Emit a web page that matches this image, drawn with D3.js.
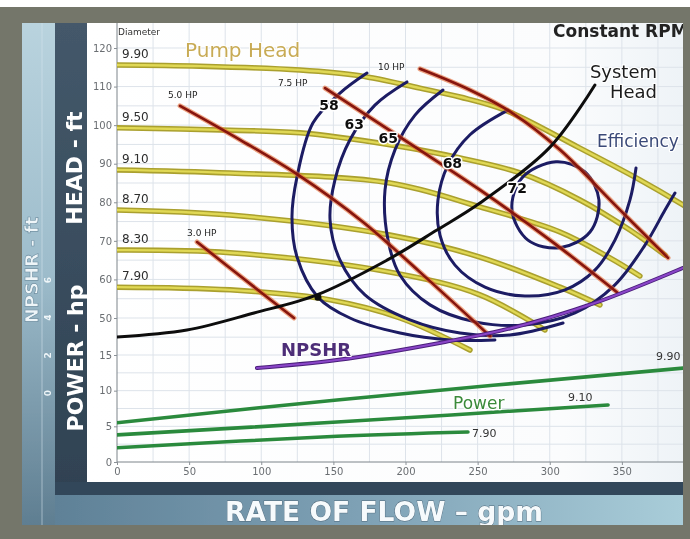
<!DOCTYPE html>
<html><head><meta charset="utf-8">
<script src="https://cdn.jsdelivr.net/npm/d3@7"></script>
<style>
html,body{margin:0;padding:0;background:#fff;}
svg{display:block;font-family:"DejaVu Sans",Verdana,sans-serif;}
</style></head><body>
<svg id="chart" width="690" height="539"></svg>
<script>
// ---- axis ticks ----
const flowTicks  = [0, 50, 100, 150, 200, 250, 300, 350];
const headTicks  = [50, 60, 70, 80, 90, 100, 110, 120];
const powerTicks = [0, 5, 10, 15];
const npshrTicks = [0, 2, 4, 6];

// ---- pump head curves per impeller diameter: [gpm, ft] ----
const diameters = ["9.90", "9.50", "9.10", "8.70", "8.30", "7.90"];
const head990 = [[0,115.6],[57.5,115.3],[126.9,114.3],[168.4,112.8],[210.0,109.6],[237.8,107.3],[269.0,103.9],[319.6,94.3],[362.5,85.8],[392.4,79.3],[400,77.5]];
const head950 = [[0,99.3],[78.3,98.7],[126.9,98.0],[189.2,94.9],[237.8,91.5],[279.4,87.6],[321.0,80.6],[355.6,72.8],[379.9,66.3]];
const head910 = [[0,88.4],[78.3,87.6],[189.2,85.0],[251.6,78.8],[307.1,72.3],[341.7,65.6],[362.5,60.9]];
const head870 = [[0,78.0],[78.3,76.7],[189.2,71.5],[251.6,65.8],[307.1,58.0],[334.8,53.4]];
const head830 = [[0,67.6],[78.3,66.9],[189.2,61.9],[251.6,56.0],[296.7,46.9]];
const head790 = [[0,58.0],[78.3,57.3],[147.7,54.7],[196.2,50.0],[244.7,41.7]];

// ---- constant horsepower lines: [gpm, ft] ----
const hpNames = ["3.0 HP", "5.0 HP", "7.5 HP", "10 HP"];
const hp30  = [[55.5,69.7],[88.7,59.9],[122.7,50.0]];
const hp50  = [[43.7,105.0],[85.3,96.2],[124.8,87.3],[170.5,74.9],[210.0,61.9],[258.6,45.3]];
const hp75  = [[144.2,109.6],[196.2,96.9],[251.6,83.2],[300.2,70.2],[346.6,56.7]];
const hp100 = [[210.0,114.6],[244.7,109.1],[273.8,103.2],[307.1,93.6],[346.6,78.8],[382.0,65.6]];

// ---- efficiency contours (%): [gpm, ft] ----
const effNames = ["58", "63", "65", "68", "72"];
const eff58 = [[173.3,113.5],[154.6,108.3],[135.9,100.6],[124.8,86.6],[121.3,76.2],[124.8,65.8],[139.3,55.4],[161.5,50.0],[196.2,46.1],[230.8,44.3],[262.0,44.3]];
const eff63 = [[201.0,111.2],[178.8,105.2],[161.5,96.2],[151.1,85.8],[147.7,75.4],[154.6,65.0],[171.9,56.0],[203.1,49.5],[237.8,46.1],[272.4,45.6],[309.2,48.7]];
const eff65 = [[226.0,109.1],[206.6,102.6],[192.7,93.6],[185.8,83.2],[187.9,70.2],[196.2,61.1],[217.0,53.4],[248.2,49.0],[282.8,48.2],[317.5,51.3],[345.2,58.6],[366.0,68.9],[379.9,78.0],[386.8,82.4]];
const eff68 = [[271.0,103.9],[244.7,97.5],[229.5,89.7],[222.5,80.6],[223.9,71.5],[234.3,63.7],[255.1,58.0],[282.8,55.7],[310.6,57.3],[331.3,62.4],[345.2,70.2],[355.6,80.6],[359.8,88.9]];
const eff72 = [[304.3,90.5],[324.4,87.9],[334.1,80.6],[327.9,72.3],[307.1,68.2],[284.9,70.2],[273.8,78.0],[280.7,86.3]];

// ---- system head curve: [gpm, ft] ----
const systemHead = [[0,45.1],[48.5,46.9],[95.0,51.3],[138.6,56.0],[187.2,65.0],[221.8,72.8],[251.6,79.8],[300.2,94.3],[331.3,110.4]];
const operatingPoint = [139.3, 55.4];

// ---- NPSHR curve: [gpm, ft] ----
const npshr = [[97.0,1.33],[152.5,1.75],[227.4,2.71],[273.8,3.45],[331.3,4.78],[388.9,6.53],[400,6.9]];

// ---- brake power per diameter: [gpm, hp] ----
const powerNames = ["9.90", "9.10", "7.90"];
const power990 = [[0,5.5],[152.5,8.7],[400,13.3]];
const power910 = [[0,3.8],[152.5,5.6],[340.4,8.0]];
const power790 = [[0,2.0],[152.5,3.6],[243.3,4.2]];

// ------------------------------------------------------------
const svg = d3.select("#chart");
const W = 690, H = 539;
const plot = {left: 117, right: 683, top: 23, bottom: 462};

const x     = d3.scaleLinear().domain([0, 400]).range([117, 694]);
const yHead = d3.scaleLinear().domain([50, 120]).range([318, 48]);
const yLow  = d3.scaleLinear().domain([0, 15]).range([462, 355]);
const yNpsh = d3.scaleLinear().domain([0, 6]).range([393, 280]);

const defs = svg.append("defs");
function vGrad(id, stops) {
  const g = defs.append("linearGradient").attr("id", id).attr("x1",0).attr("y1",0).attr("x2",0).attr("y2",1);
  stops.forEach(s => g.append("stop").attr("offset", s[0]).attr("stop-color", s[1]));
}
function hGrad(id, stops) {
  const g = defs.append("linearGradient").attr("id", id).attr("x1",0).attr("y1",0).attr("x2",1).attr("y2",0);
  stops.forEach(s => g.append("stop").attr("offset", s[0]).attr("stop-color", s[1]));
}
vGrad("lightStrip", [[0,"#b9d3de"],[0.5,"#9dbccb"],[1,"#5f7e91"]]);
vGrad("darkStrip", [[0,"#44586a"],[1,"#2f4252"]]);
hGrad("flowStrip", [[0,"#5f8197"],[0.5,"#7fa2b6"],[1,"#a9cdd9"]]);
hGrad("plotBg", [[0,"#ffffff"],[0.8,"#fbfcfd"],[1,"#eef3f7"]]);
defs.append("clipPath").attr("id", "plotClip").append("rect")
  .attr("x", plot.left).attr("y", plot.top).attr("width", plot.right - plot.left).attr("height", plot.bottom - plot.top);
defs.append("clipPath").attr("id", "panelClip").append("rect")
  .attr("x", 22).attr("y", 23).attr("width", 661).attr("height", 502);
defs.append("filter").attr("id", "soft").append("feGaussianBlur").attr("stdDeviation", 0.55);

// ---- frame ----
svg.append("rect").attr("width", W).attr("height", H).attr("fill", "#ffffff");
svg.append("rect").attr("x", 0).attr("y", 7).attr("width", W).attr("height", H - 7).attr("fill", "#74766a");

const root = svg.append("g").attr("filter", "url(#soft)");
const panel = root.append("g").attr("clip-path", "url(#panelClip)");
panel.append("rect").attr("x", 22).attr("y", 23).attr("width", 661).attr("height", 502).attr("fill", "#3a4d5d");
panel.append("rect").attr("x", 22).attr("y", 23).attr("width", 33).attr("height", 502).attr("fill", "url(#lightStrip)");
panel.append("line").attr("x1", 42).attr("x2", 42).attr("y1", 23).attr("y2", 525).attr("stroke", "#d9e8ee").attr("stroke-opacity", 0.55).attr("stroke-width", 1);
panel.append("rect").attr("x", 55).attr("y", 23).attr("width", 32).attr("height", 472).attr("fill", "url(#darkStrip)");
panel.append("rect").attr("x", 55).attr("y", 482).attr("width", 628).attr("height", 13).attr("fill", "#33475a");
panel.append("rect").attr("x", 55).attr("y", 495).attr("width", 628).attr("height", 30).attr("fill", "url(#flowStrip)");
panel.append("rect").attr("x", 87).attr("y", 23).attr("width", 596).attr("height", 459).attr("fill", "url(#plotBg)");

// ---- side titles ----
panel.append("text").attr("transform", "translate(82,168) rotate(-90)")
  .attr("text-anchor", "middle").attr("font-size", 22).attr("font-weight", "bold").attr("fill", "#ffffff").text("HEAD - ft");
panel.append("text").attr("transform", "translate(83,358) rotate(-90)")
  .attr("text-anchor", "middle").attr("font-size", 22).attr("font-weight", "bold").attr("fill", "#ffffff").text("POWER - hp");
panel.append("text").attr("transform", "translate(38,270) rotate(-90)")
  .attr("text-anchor", "middle").attr("font-size", 18).attr("font-weight", "bold").attr("fill", "#eef5f8")
  .attr("stroke", "#6d8da0").attr("stroke-width", 0.6).text("NPSHR - ft");
panel.selectAll("text.npsh").data(npshrTicks).join("text").attr("class", "npsh")
  .attr("transform", d => `translate(51,${yNpsh(d)}) rotate(-90)`)
  .attr("text-anchor", "middle").attr("font-size", 9).attr("font-weight", "bold").attr("fill", "#eef5f8").text(d => d);
panel.append("text").attr("x", 225).attr("y", 521).attr("font-size", 27).attr("font-weight", "bold")
  .attr("fill", "#f6fafc").attr("stroke", "#50687a").attr("stroke-width", 0.8).attr("paint-order", "stroke")
  .attr("textLength", 318).attr("lengthAdjust", "spacingAndGlyphs").text("RATE OF FLOW \u2013 gpm");

// ---- grid ----
const grid = panel.append("g").attr("stroke", "#dde3ea").attr("stroke-width", 1);
grid.selectAll("line.v").data(d3.range(25, 400, 25)).join("line").attr("class", "v")
  .attr("x1", d => x(d)).attr("x2", d => x(d)).attr("y1", plot.top).attr("y2", plot.bottom);
grid.selectAll("line.h").data(d3.range(55, 125, 5)).join("line").attr("class", "h")
  .attr("x1", plot.left).attr("x2", plot.right).attr("y1", d => yHead(d)).attr("y2", d => yHead(d));
grid.selectAll("line.hl").data(d3.range(2.5, 20, 2.5)).join("line").attr("class", "hl")
  .attr("x1", plot.left).attr("x2", plot.right).attr("y1", d => yLow(d)).attr("y2", d => yLow(d));
grid.append("line").attr("x1", plot.left).attr("x2", plot.right).attr("y1", yHead(50)).attr("y2", yHead(50));

// ---- axes ----
function styleAxis(g) {
  g.selectAll("path.domain").attr("stroke", "#7d848a");
  g.selectAll(".tick line").attr("stroke", "#8a9096");
  g.selectAll(".tick text").attr("fill", "#6a6e72").attr("font-size", 10).attr("font-family", "DejaVu Sans, sans-serif");
}
panel.append("g").attr("transform", `translate(0,${plot.bottom})`)
  .call(d3.axisBottom(x).tickValues(flowTicks).tickSize(3).tickPadding(3).tickSizeOuter(0)).call(styleAxis)
  .call(g => g.select("path.domain").attr("d", `M${plot.left},0H${plot.right}`));
panel.append("g").attr("transform", `translate(${plot.left},0)`)
  .call(d3.axisLeft(yHead).tickValues(headTicks).tickSize(3).tickPadding(2)).call(styleAxis)
  .call(g => g.select("path.domain").attr("d", `M0,${plot.top}V${plot.bottom}`));
panel.append("g").attr("transform", `translate(${plot.left},0)`)
  .call(d3.axisLeft(yLow).tickValues(powerTicks).tickSize(3).tickPadding(2)).call(styleAxis)
  .call(g => g.select("path.domain").remove());

// ---- curves ----
const marks = panel.append("g").attr("clip-path", "url(#plotClip)").attr("fill", "none")
  .attr("stroke-linecap", "round").attr("stroke-linejoin", "round");
const headLine = d3.line().x(d => x(d[0])).y(d => yHead(d[1])).curve(d3.curveCatmullRom.alpha(0.5));
const lowLine  = d3.line().x(d => x(d[0])).y(d => yLow(d[1])).curve(d3.curveCatmullRom.alpha(0.5));
const npshLine = d3.line().x(d => x(d[0])).y(d => yNpsh(d[1])).curve(d3.curveCatmullRom.alpha(0.5));
const ringLine = d3.line().x(d => x(d[0])).y(d => yHead(d[1])).curve(d3.curveCatmullRomClosed.alpha(0.5));

const headSet = [head990, head950, head910, head870, head830, head790];
marks.selectAll("path.headBase").data(headSet).join("path").attr("class", "headBase")
  .attr("d", headLine).attr("stroke", "#aaa02e").attr("stroke-width", 5.5);
marks.selectAll("path.headTop").data(headSet).join("path").attr("class", "headTop")
  .attr("d", headLine).attr("stroke", "#e0d854").attr("stroke-width", 2.4);

const effSet = [eff58, eff63, eff65, eff68];
marks.selectAll("path.eff").data(effSet).join("path").attr("class", "eff")
  .attr("d", headLine).attr("stroke", "#1b1a64").attr("stroke-width", 3);
marks.append("path").datum(eff72).attr("d", ringLine).attr("stroke", "#1b1a64").attr("stroke-width", 3);

const hpSet = [hp30, hp50, hp75, hp100];
marks.selectAll("path.hpGlow").data(hpSet).join("path").attr("class", "hpGlow")
  .attr("d", headLine).attr("stroke", "#e2682e").attr("stroke-opacity", 0.6).attr("stroke-width", 5);
marks.selectAll("path.hp").data(hpSet).join("path").attr("class", "hp")
  .attr("d", headLine).attr("stroke", "#86130f").attr("stroke-width", 2.6);

marks.append("path").datum(systemHead).attr("d", headLine).attr("stroke", "#0e0e0e").attr("stroke-width", 3);
marks.append("circle").attr("cx", x(operatingPoint[0])).attr("cy", yHead(operatingPoint[1])).attr("r", 3.5).attr("fill", "#0e0e0e");

marks.append("path").datum(npshr).attr("d", npshLine).attr("stroke", "#4a1f7a").attr("stroke-width", 4);
marks.append("path").datum(npshr).attr("d", npshLine).attr("stroke", "#8a45c8").attr("stroke-width", 2);

const powerSet = [power990, power910, power790];
marks.selectAll("path.pw").data(powerSet).join("path").attr("class", "pw")
  .attr("d", lowLine).attr("stroke", "#2c8a3c").attr("stroke-width", 3.6);

// ---- labels ----
const labels = panel.append("g").attr("clip-path", "url(#plotClip)");
function halo(sel, w) { return sel.attr("stroke", "#ffffff").attr("stroke-width", w).attr("stroke-linejoin", "round").attr("paint-order", "stroke"); }

labels.append("text").attr("x", 118).attr("y", 35).attr("font-size", 9).attr("fill", "#333").text("Diameter");
labels.selectAll("text.dia").data(headSet).join("text").attr("class", "dia")
  .attr("x", 122).attr("y", d => yHead(d[0][1]) - 7).attr("font-size", 12).attr("fill", "#2d2d2d")
  .text((d, i) => diameters[i]);
halo(labels.append("text").attr("x", 185).attr("y", 57).attr("font-size", 20).attr("fill", "#c8ab55").text("Pump Head"), 2);

// horsepower tags sit just above the start of each line
const hpTagOffset = [[-10, -6], [-12, -8], [-47, -2], [-42, 1]];
labels.selectAll("text.hpt").data(hpSet).join("text").attr("class", "hpt")
  .attr("x", (d, i) => x(d[0][0]) + hpTagOffset[i][0]).attr("y", (d, i) => yHead(d[0][1]) + hpTagOffset[i][1])
  .attr("font-size", 9).attr("fill", "#222").text((d, i) => hpNames[i]);

// efficiency values on the upper part of each contour
const effTagAt = [[147.0, 104.0], [164.5, 99.0], [188.0, 95.3], [232.5, 89.0], [277.5, 82.5]];
halo(labels.selectAll("text.eff").data(effTagAt).join("text").attr("class", "eff")
  .attr("x", d => x(d[0])).attr("y", d => yHead(d[1])).attr("text-anchor", "middle")
  .attr("font-size", 14).attr("font-weight", "bold").attr("fill", "#111").text((d, i) => effNames[i]), 3);

halo(labels.append("text").attr("x", 657).attr("y", 78).attr("text-anchor", "end").attr("font-size", 18).attr("fill", "#1c1c1c").text("System"), 2.5);
halo(labels.append("text").attr("x", 657).attr("y", 98).attr("text-anchor", "end").attr("font-size", 18).attr("fill", "#1c1c1c").text("Head"), 2.5);
halo(labels.append("text").attr("x", 597).attr("y", 147).attr("font-size", 17).attr("fill", "#3a4a78").text("Efficiency"), 2.5);
labels.append("text").attr("x", 553).attr("y", 37).attr("font-size", 17).attr("font-weight", "bold").attr("fill", "#222").text("Constant RPM");
halo(labels.append("text").attr("x", 281).attr("y", 356).attr("font-size", 18).attr("font-weight", "bold").attr("fill", "#4e2e78").text("NPSHR"), 2);
halo(labels.append("text").attr("x", 453).attr("y", 409).attr("font-size", 17).attr("fill", "#3a8a3a").text("Power"), 2.5);

const powerTagOffset = [[-38, -7], [-40, -4], [4, 5]];
labels.selectAll("text.pwt").data(powerSet).join("text").attr("class", "pwt")
  .attr("x", (d, i) => x(d[d.length - 1][0]) + powerTagOffset[i][0])
  .attr("y", (d, i) => yLow(d[d.length - 1][1]) + powerTagOffset[i][1])
  .attr("font-size", 11).attr("fill", "#333").text((d, i) => powerNames[i]);
</script>
</body></html>
